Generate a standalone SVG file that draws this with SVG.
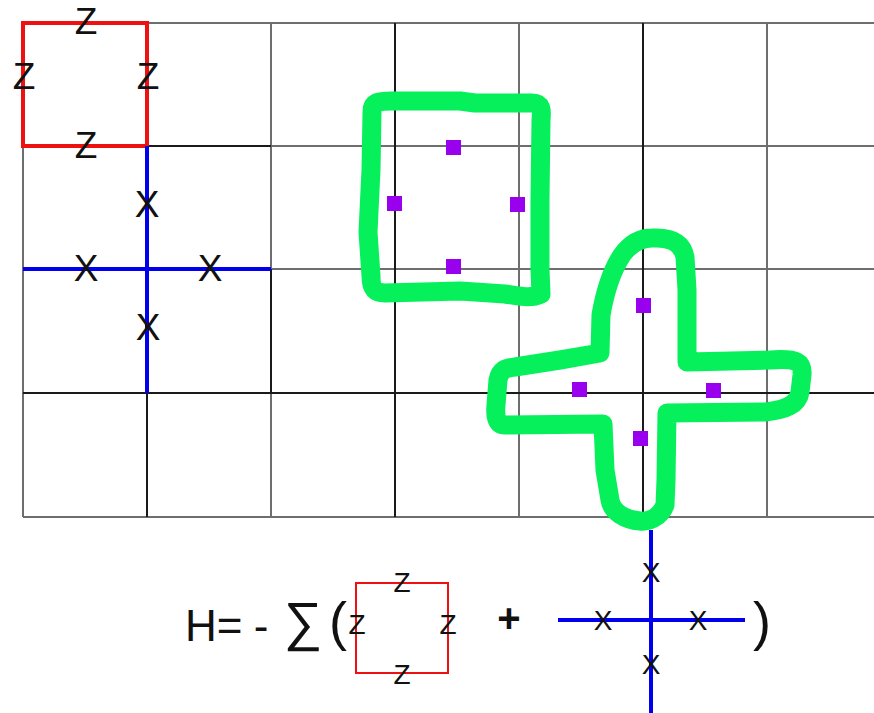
<svg xmlns="http://www.w3.org/2000/svg" width="874" height="713" viewBox="0 0 874 713">
<style>
.grid{stroke:#6e6e6e;stroke-width:2;fill:none}
.dark{stroke:#1a1a1a;stroke-width:2;fill:none}
.red{stroke:#ee1111;fill:none}
.blue{stroke:#0000ee;stroke-width:4;fill:none}
.loop{stroke:#05f05a;stroke-width:19;fill:none;stroke-linejoin:round;stroke-linecap:round}
.dot{fill:#9900ee}
.lbl{font-family:"Liberation Sans",Arial,sans-serif;fill:#111;text-anchor:middle}
.big{font-size:37px}
.small{font-size:28px}
.eq{font-family:"Liberation Sans",Arial,sans-serif;fill:#111}
</style>
<rect width="874" height="713" fill="#fff"/>
<g id="grid">
<path class="grid" d="M23,23H874M23,146H874M23,269H874M23,393H874M23,517H874"/>
<path class="grid" d="M23,23V517M147,23V517M271,23V517M395,23V517M519,23V517M643,23V517M767,23V517"/>
<path class="dark" d="M395,23V517M643,23V517M23,393H874M147,393V517M271,269V393M147,146H271"/>
</g>
<g id="plaquette">
<rect class="red" x="23" y="23" width="124" height="123" stroke-width="4"/>
<text class="lbl big" x="86" y="34">Z</text>
<text class="lbl big" x="24" y="89">Z</text>
<text class="lbl big" x="148" y="89">Z</text>
<text class="lbl big" x="86" y="158">Z</text>
</g>
<g id="star">
<path class="blue" d="M147,146V393M23,269H271"/>
<text class="lbl big" x="147" y="217">X</text>
<text class="lbl big" x="86" y="281">X</text>
<text class="lbl big" x="210" y="281">X</text>
<text class="lbl big" x="148" y="340">X</text>
</g>
<g id="loop-square">
<path class="loop" d="M372,112 C372,102 378,101 392,101 L460,101 L475,103 L532,103 C542,103 542,110 541,120 L540,200 L540,270 L541,294 C530,299 520,296 505,294 L460,291 L385,293 C373,293 371,287 371,276 L368,232 L371,170 Z"/>
<rect class="dot" x="446" y="140" width="15" height="15"/>
<rect class="dot" x="387" y="196" width="15" height="15"/>
<rect class="dot" x="510" y="197" width="15" height="15"/>
<rect class="dot" x="446" y="259" width="15" height="15"/>
</g>
<g id="loop-cross">
<path class="loop" d="M652,238 C670,237 682,242 685,257 L687,290 L687,362 L770,360 C798,358 803,362 802,375 L800,392 C798,405 785,410 765,412 L667,413 L666,480 L665,505 C660,518 648,522 640,521 C625,520 612,512 610,500 L605,470 L603,424 L505,425 C496,425 495,415 496,405 L498,380 C500,370 505,368 515,367 L560,360 L600,353 L601,315 C605,292 612,270 622,255 C630,244 640,238 652,238 Z"/>
<rect class="dot" x="636" y="298" width="15" height="15"/>
<rect class="dot" x="572" y="382" width="15" height="15"/>
<rect class="dot" x="706" y="383" width="15" height="15"/>
<rect class="dot" x="633" y="431" width="15" height="15"/>
</g>
<g id="formula">
<text class="eq" x="185" y="641" font-size="44">H=</text>
<text class="eq" x="261" y="641" font-size="44" text-anchor="middle">-</text>
<text class="eq" x="303" y="640" font-size="54" text-anchor="middle" font-family="DejaVu Sans,sans-serif">∑</text>
<text class="eq" x="338" y="640" font-size="54" text-anchor="middle">(</text>
<rect class="red" x="356" y="583" width="92" height="90" stroke-width="2"/>
<text class="lbl small" x="402" y="592">Z</text>
<text class="lbl small" x="357" y="634">Z</text>
<text class="lbl small" x="448" y="634">Z</text>
<text class="lbl small" x="402" y="684">Z</text>
<text class="eq" x="509" y="632" font-size="40" font-weight="bold" text-anchor="middle">+</text>
<path class="blue" d="M651,530V713M558,620H745"/>
<text class="lbl small" x="651" y="582">X</text>
<text class="lbl small" x="603" y="630">X</text>
<text class="lbl small" x="698" y="630">X</text>
<text class="lbl small" x="651" y="674">X</text>
<text class="eq" x="762" y="640" font-size="54" text-anchor="middle">)</text>
</g>
</svg>
